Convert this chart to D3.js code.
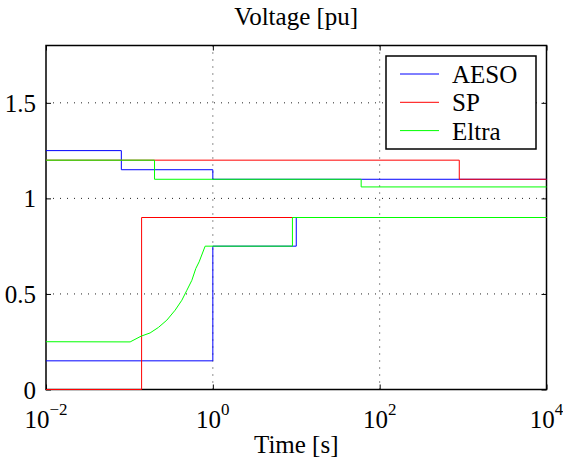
<!DOCTYPE html>
<html>
<head>
<meta charset="utf-8">
<script src="https://cdn.jsdelivr.net/npm/d3@7"></script>
<style>
  html, body { margin: 0; padding: 0; background: #fff; }
  svg { display: block; }
</style>
</head>
<body>
<svg id="chart" width="563" height="463"></svg>
<script>
// ---- Data ----
const seriesNames = ["AESO", "SP", "Eltra"];
const seriesColors = ["#0000ff", "#ff0000", "#00ff00"];

// AESO
const aesoUpperT = [0.01, 0.08, 0.08, 1, 1, 10000];
const aesoUpperV = [1.25, 1.25, 1.15, 1.15, 1.1, 1.1];
const aesoLowerT = [0.01, 1, 1, 10, 10, 10000];
const aesoLowerV = [0.15, 0.15, 0.75, 0.75, 0.9, 0.9];
// SP
const spUpperT = [0.01, 900, 900, 10000];
const spUpperV = [1.2, 1.2, 1.1, 1.1];
const spLowerT = [0.01, 0.14, 0.14, 10000];
const spLowerV = [0, 0, 0.9, 0.9];
// Eltra
const eltraUpperT = [0.01, 0.2, 0.2, 60, 60, 10000];
const eltraUpperV = [1.2, 1.2, 1.1, 1.1, 1.06, 1.06];
const eltraLowerT = [0.01, 0.102, 0.138, 0.177, 0.223, 0.281, 0.353, 0.425, 0.488, 0.56, 0.625, 0.685, 0.809, 9, 9, 10000];
const eltraLowerV = [0.25, 0.249, 0.279, 0.296, 0.325, 0.363, 0.415, 0.467, 0.519, 0.571, 0.633, 0.668, 0.75, 0.75, 0.9, 0.9];

const xTicks = [1e-2, 1e0, 1e2, 1e4];
const xTickExp = ["\u22122", "0", "2", "4"];
const yTicks = [0, 0.5, 1, 1.5];
const yTickLabels = ["0", "0.5", "1", "1.5"];

const titleText = "Voltage [pu]";
const xLabelText = "Time [s]";

// ---- Layout ----
const FONT = "Liberation Serif, Tinos, Times New Roman, Times, Nimbus Roman, Nimbus Roman No9 L, FreeSerif, Noto Serif, DejaVu Serif, serif";
const W = 563, H = 463;
const margin = { left: 46, right: 16.5, top: 45.5, bottom: 73.5 };
const pw = W - margin.left - margin.right;
const ph = H - margin.top - margin.bottom;

const svg = d3.select("#chart");
const g = svg.append("g").attr("transform", `translate(${margin.left},${margin.top})`);

const x = d3.scaleLog().domain([1e-2, 1e4]).range([0, pw]);
const y = d3.scaleLinear().domain([0, 1.8]).range([ph, 0]);

// grid (dotted)
const grid = g.append("g");
xTicks.slice(1, -1).forEach(t => {
  grid.append("line")
    .attr("x1", x(t)).attr("x2", x(t)).attr("y1", 0).attr("y2", ph)
    .attr("stroke", "#222").attr("stroke-width", 1).attr("stroke-dasharray", "1,6");
});
yTicks.slice(1).forEach(t => {
  grid.append("line")
    .attr("x1", 0).attr("x2", pw).attr("y1", y(t)).attr("y2", y(t))
    .attr("stroke", "#222").attr("stroke-width", 1).attr("stroke-dasharray", "1,6");
});

const line = d3.line().x(d => x(d[0])).y(d => y(d[1]));
const zip = (T, V) => T.map((t, i) => [t, V[i]]);
const traces = [
  { pts: zip(aesoUpperT, aesoUpperV), c: 0 },
  { pts: zip(aesoLowerT, aesoLowerV), c: 0 },
  { pts: zip(spUpperT, spUpperV), c: 1 },
  { pts: zip(spLowerT, spLowerV), c: 1 },
  { pts: zip(eltraUpperT, eltraUpperV), c: 2 },
  { pts: zip(eltraLowerT, eltraLowerV), c: 2 }
];

// axes box & ticks
g.append("rect").attr("x", 0).attr("y", 0).attr("width", pw).attr("height", ph)
  .attr("fill", "none").attr("stroke", "#000").attr("stroke-width", 1.5);

const tl = 5;
g.append("g").attr("transform", `translate(0,${ph})`)
  .call(d3.axisBottom(x).tickValues(xTicks).tickSize(-tl).tickFormat(""))
  .call(s => s.select(".domain").remove());
g.append("g")
  .call(d3.axisTop(x).tickValues(xTicks).tickSize(-tl).tickFormat(""))
  .call(s => s.select(".domain").remove());
g.append("g")
  .call(d3.axisLeft(y).tickValues(yTicks).tickSize(-tl).tickFormat(""))
  .call(s => s.select(".domain").remove());
g.append("g").attr("transform", `translate(${pw},0)`)
  .call(d3.axisRight(y).tickValues(yTicks).tickSize(-tl).tickFormat(""))
  .call(s => s.select(".domain").remove());
g.selectAll(".tick line").attr("stroke", "#000").attr("stroke-width", 1);

traces.forEach(tr => {
  g.append("path").datum(tr.pts)
    .attr("d", line)
    .attr("fill", "none")
    .attr("stroke", seriesColors[tr.c])
    .attr("stroke-width", 1);
});

// y tick labels
yTicks.forEach((t, i) => {
  g.append("text")
    .attr("x", -10).attr("y", y(t) + 9)
    .attr("text-anchor", "end")
    .style("font-family", FONT)
    .attr("font-size", 25)
    .text(yTickLabels[i]);
});

// x tick labels with superscripts
xTicks.forEach((t, i) => {
  const tx = g.append("text")
    .attr("x", x(t)).attr("y", ph + 38)
    .attr("text-anchor", "middle")
    .style("font-family", FONT)
    .attr("font-size", 25);
  tx.append("tspan").text("10");
  tx.append("tspan").attr("dy", -13).attr("font-size", 17).text(xTickExp[i]);
});

// title and x label
svg.append("text")
  .attr("x", margin.left + pw / 2).attr("y", 25)
  .attr("text-anchor", "middle").style("font-family", FONT).attr("font-size", 25)
  .text(titleText);
svg.append("text")
  .attr("x", margin.left + pw / 2).attr("y", 453)
  .attr("text-anchor", "middle").style("font-family", FONT).attr("font-size", 25)
  .text(xLabelText);

// legend
const lg = svg.append("g").attr("transform", "translate(386,56)");
lg.append("rect").attr("x", 0).attr("y", 0).attr("width", 150).attr("height", 93)
  .attr("fill", "#fff").attr("stroke", "#000").attr("stroke-width", 1.5);
seriesNames.forEach((n, i) => {
  const ly = 18 + i * 28.3;
  lg.append("line").attr("x1", 14).attr("x2", 53).attr("y1", ly).attr("y2", ly)
    .attr("stroke", seriesColors[i]).attr("stroke-width", 1);
  lg.append("text").attr("x", 66).attr("y", ly + 9)
    .style("font-family", FONT).attr("font-size", 25).text(n);
});
</script>
</body>
</html>
